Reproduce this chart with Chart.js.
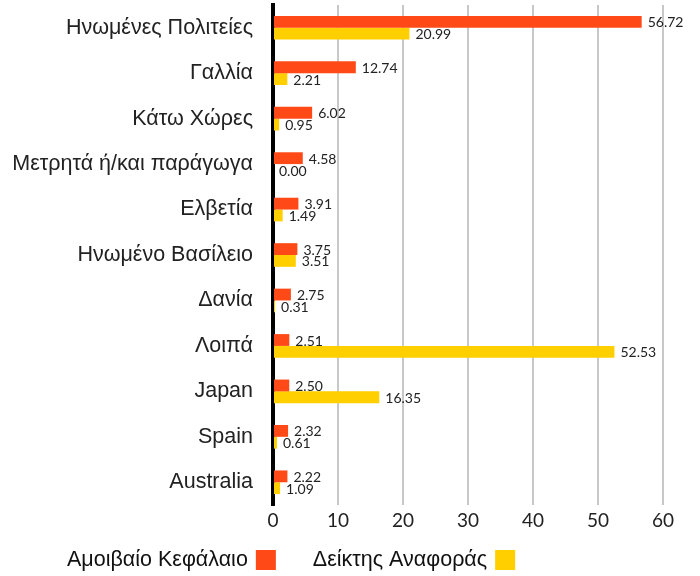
<!DOCTYPE html>
<html><head><meta charset="utf-8">
<script src="https://cdn.jsdelivr.net/npm/chart.js@4/dist/chart.umd.min.js"></script>
<style>html,body{margin:0;padding:0;background:#fff}#wrap{width:700px;height:576px}</style>
</head><body><div id="wrap"><canvas id="c" width="700" height="576"></canvas></div>
<script>
const categories = ["Ηνωμένες Πολιτείες","Γαλλία","Κάτω Χώρες","Μετρητά ή/και παράγωγα","Ελβετία","Ηνωμένο Βασίλειο","Δανία","Λοιπά","Japan","Spain","Australia"];
const fundValues = [56.72,12.74,6.02,4.58,3.91,3.75,2.75,2.51,2.50,2.32,2.22];
const indexValues = [20.99,2.21,0.95,0.00,1.49,3.51,0.31,52.53,16.35,0.61,1.09];
const seriesNames = ["Αμοιβαίο Κεφάλαιο","Δείκτης Αναφοράς"];
const seriesColors = ["#FF4A17","#FFCF00"];
const xTicks = [0,10,20,30,40,50,60];

const valueLabels = {
  id:'valueLabels',
  afterDatasetsDraw(chart){
    const ctx = chart.ctx;
    ctx.save();
    ctx.font = '14px Lato';
    ctx.fillStyle = '#222';
    ctx.textAlign = 'left';
    ctx.textBaseline = 'middle';
    chart.data.datasets.forEach((ds,i)=>{
      chart.getDatasetMeta(i).data.forEach((bar,j)=>{
        ctx.fillText(ds.data[j].toFixed(2), bar.x + 6, bar.y + 1);
      });
    });
    ctx.restore();
  }
};

const bottomLegend = {
  id:'bottomLegend',
  afterDraw(chart){
    const ctx = chart.ctx;
    ctx.save();
    ctx.font = '21.5px "Liberation Sans"';
    ctx.textBaseline = 'middle';
    ctx.textAlign = 'left';
    let x = 67;
    const cy = 560;
    chart.data.datasets.forEach((ds)=>{
      ctx.fillStyle = '#111';
      ctx.fillText(ds.label, x, cy);
      x += ctx.measureText(ds.label).width + 8;
      ctx.fillStyle = ds.backgroundColor;
      ctx.fillRect(x, 550, 20, 20);
      x += 20 + 37;
    });
    ctx.restore();
  }
};

new Chart(document.getElementById('c'), {
  type:'bar',
  data:{
    labels: categories,
    datasets:[
      {label: seriesNames[0], data: fundValues, backgroundColor: seriesColors[0], categoryPercentage:0.52, barPercentage:1},
      {label: seriesNames[1], data: indexValues, backgroundColor: seriesColors[1], categoryPercentage:0.52, barPercentage:1}
    ]
  },
  options:{
    indexAxis:'y',
    responsive:false,
    animation:false,
    layout:{padding:{top:5,right:37,left:0,bottom:43}},
    plugins:{
      tooltip:{enabled:false},
      legend:{display:false}
    },
    scales:{
      x:{
        min:0, max:60,
        afterBuildTicks(s){ s.ticks = xTicks.map(v=>({value:v})); },
        afterFit(s){ s.height = 28; },
        grid:{color:'#c8c8c8', lineWidth:2, drawTicks:false},
        border:{display:false},
        ticks:{color:'#222', padding:4, font:{family:'Lato', size:19}}
      },
      y:{
        grid:{display:false},
        border:{color:'#000', width:4},
        afterFit(s){ s.width = 273; s.paddingTop = 0; s.paddingBottom = 0; },
        ticks:{color:'#222', padding:12, font:{family:'Liberation Sans', size:21.5}}
      }
    }
  },
  plugins:[valueLabels, bottomLegend]
});
</script></body></html>
